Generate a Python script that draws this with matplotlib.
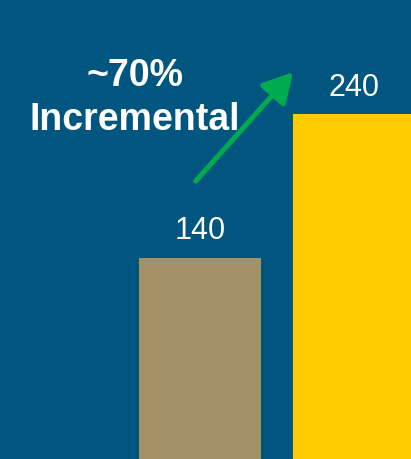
import matplotlib.pyplot as plt

# --- Data ---
categories = ["Before", "After"]
values = [140, 240]
bar_colors = ["#A39165", "#FFCC00"]
headline = "~70%\nIncremental"

bg = "#00567E"

fig = plt.figure(figsize=(4.11, 4.60), dpi=100, facecolor=bg)
ax = fig.add_axes([0, 0, 1, 1])
ax.set_facecolor(bg)

x = list(range(len(categories)))
ax.bar(x, values, width=0.79, color=bar_colors)

# value labels above bars
for xi, v in zip(x, values):
    ax.text(xi, v + 19, str(v), ha="center", va="center", color="white",
            fontsize=22, family="Liberation Sans")

ax.set_xlim(-1.299, 1.370)
ax.set_ylim(0, 320)
ax.axis("off")

# headline text
ax.text(0.328, 0.787, headline, transform=ax.transAxes, ha="center", va="center",
        color="white", fontsize=27, fontweight="bold", family="Liberation Sans",
        linespacing=1.3)

# green growth arrow
ax.annotate("", xy=(0.713, 0.841), xytext=(0.476, 0.604),
            xycoords="axes fraction", textcoords="axes fraction",
            arrowprops=dict(arrowstyle="-|>,head_length=0.9,head_width=0.5",
                            color="#00AA4F", lw=3.6, mutation_scale=20,
                            shrinkA=0, shrinkB=0))

plt.savefig("out.png", dpi=100, facecolor=bg)
